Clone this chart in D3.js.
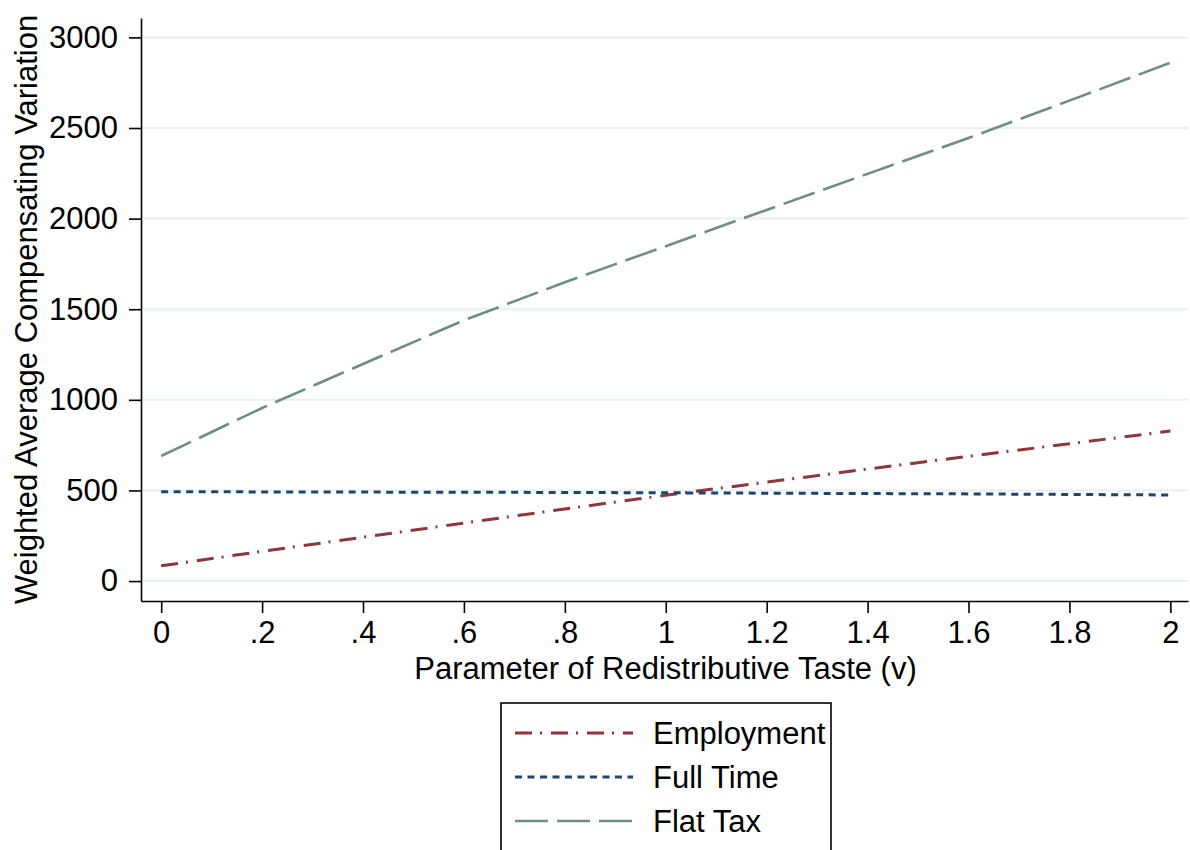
<!DOCTYPE html>
<html>
<head>
<meta charset="utf-8">
<script src="https://cdn.jsdelivr.net/npm/d3@7"></script>
<style>
  body { margin: 0; background: #fff; }
  text { font-family: "Liberation Sans", Arial, Helvetica, sans-serif; fill: #000; }
</style>
</head>
<body>
<div id="chart-area"></div>
<script>
// values
var vValues = [0, 0.2, 0.4, 0.6, 0.8, 1, 1.2, 1.4, 1.6, 1.8, 2];
var employment = [84, 164, 242, 320, 398, 474, 546, 618, 688, 758, 828];
var fullTime = [493, 492, 491, 490, 489, 487, 485, 483, 481, 478, 475];
var flatTax = [690, 955, 1198, 1439, 1649, 1848, 2048, 2247, 2445, 2651, 2860];

var seriesNames = ["Employment", "Full Time", "Flat Tax"];
var seriesColors = ["#90353b", "#1a476f", "#6e8e84"];
var seriesDash = ["17,8,2,9", "7,5.5", "33,9"];
var seriesWidth = [3, 3, 2.6];

var yTickValues = [0, 500, 1000, 1500, 2000, 2500, 3000];
var xTickValues = [0, 0.2, 0.4, 0.6, 0.8, 1, 1.2, 1.4, 1.6, 1.8, 2];
var xTickLabels = ["0", ".2", ".4", ".6", ".8", "1", "1.2", "1.4", "1.6", "1.8", "2"];

var svgWidth = 1190,
    svgHeight = 850,
    plot = { left: 141, right: 1188, top: 18, bottom: 601 },
    fontSize = "31px";

var svg = d3.select("#chart-area")
            .append("svg")
            .attr("width", svgWidth)
            .attr("height", svgHeight);

var x = d3.scaleLinear().domain([-0.04, 2.035]).range([plot.left, plot.right]);
var y = d3.scaleLinear().domain([-110, 3107]).range([plot.bottom, plot.top]);

// gridlines
svg.append("g")
   .selectAll("line")
   .data(yTickValues)
   .enter().append("line")
   .attr("x1", plot.left)
   .attr("x2", plot.right)
   .attr("y1", function(d) { return y(d); })
   .attr("y2", function(d) { return y(d); })
   .attr("stroke", "#e8f0f3")
   .attr("stroke-width", 2);

// axes
var yAxisCall = d3.axisLeft(y)
                  .tickValues(yTickValues)
                  .tickSize(12)
                  .tickSizeOuter(0)
                  .tickPadding(11)
                  .tickFormat(function(d) { return d; });

var xAxisCall = d3.axisBottom(x)
                  .tickValues(xTickValues)
                  .tickSize(12)
                  .tickSizeOuter(0)
                  .tickPadding(8)
                  .tickFormat(function(d, i) { return xTickLabels[i]; });

var yAxisGroup = svg.append("g")
                    .attr("transform", "translate(" + plot.left + ",0)")
                    .call(yAxisCall);

var xAxisGroup = svg.append("g")
                    .attr("transform", "translate(0," + plot.bottom + ")")
                    .call(xAxisCall);

[yAxisGroup, xAxisGroup].forEach(function(ax) {
  ax.select(".domain").attr("stroke", "#000").attr("stroke-width", 1.6);
  ax.selectAll(".tick line").attr("stroke", "#000").attr("stroke-width", 1.6);
  ax.selectAll(".tick text")
    .style("font-family", "'Liberation Sans', Arial, sans-serif")
    .style("font-size", fontSize)
    .attr("fill", "#000");
});

// axis titles
svg.append("text")
   .attr("x", (plot.left + plot.right) / 2 + 1)
   .attr("y", 679)
   .attr("text-anchor", "middle")
   .style("font-size", fontSize)
   .text("Parameter of Redistributive Taste (v)");

svg.append("text")
   .attr("transform", "translate(37," + (plot.top + plot.bottom) / 2 + ") rotate(-90)")
   .attr("text-anchor", "middle")
   .style("font-size", fontSize)
   .text("Weighted Average Compensating Variation");

// lines
var allSeries = [employment, fullTime, flatTax];

var line = d3.line()
             .x(function(d, i) { return x(vValues[i]); })
             .y(function(d) { return y(d); });

svg.append("g")
   .selectAll("path")
   .data(allSeries)
   .enter().append("path")
   .attr("d", function(d) { return line(d); })
   .attr("fill", "none")
   .attr("stroke", function(d, i) { return seriesColors[i]; })
   .attr("stroke-width", function(d, i) { return seriesWidth[i]; })
   .attr("stroke-dasharray", function(d, i) { return seriesDash[i]; });

// legend
var legend = svg.append("g");

legend.append("rect")
      .attr("x", 501)
      .attr("y", 703)
      .attr("width", 330)
      .attr("height", 170)
      .attr("fill", "#fff")
      .attr("stroke", "#000")
      .attr("stroke-width", 1.6);

var items = legend.selectAll(".item")
                  .data(seriesNames)
                  .enter().append("g")
                  .attr("class", "item")
                  .attr("transform", function(d, i) { return "translate(0," + (733 + i * 44) + ")"; });

items.append("line")
     .attr("x1", 515)
     .attr("x2", 633)
     .attr("stroke", function(d, i) { return seriesColors[i]; })
     .attr("stroke-width", function(d, i) { return seriesWidth[i]; })
     .attr("stroke-dasharray", function(d, i) { return seriesDash[i]; });

items.append("text")
     .attr("x", 653)
     .attr("dy", "0.36em")
     .style("font-size", fontSize)
     .text(function(d) { return d; });
</script>
</body>
</html>
